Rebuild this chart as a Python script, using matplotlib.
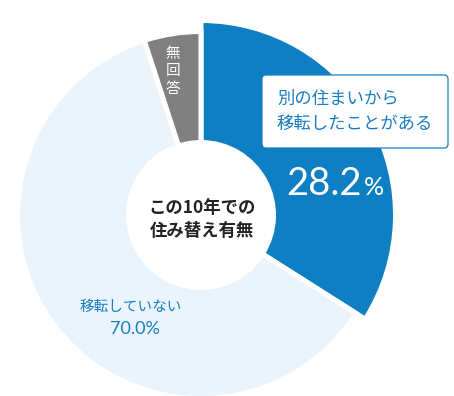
import matplotlib
matplotlib.use("Agg")
import matplotlib.pyplot as plt
from matplotlib.patches import FancyBboxPatch

plt.rcParams["font.family"] = ["Noto Sans CJK JP", "DejaVu Sans"]

# Slice shares as drawn in the chart (blue, light, gray), clockwise from top.
slice_names = ["別の住まいから\n移転したことがある", "移転していない", "無回答"]
slice_shares = [34.0, 61.0, 5.0]
slice_labels = ["28.2", "70.0%", ""]
slice_colors = ["#0e7fc3", "#e9f4fc", "#808080"]
center_title = "この10年での\n住み替え有無"

BLUE = "#1a7dc4"

fig = plt.figure(figsize=(4.54, 3.96), dpi=100)
ax = fig.add_axes([0, 0, 1, 1])

# Geometry in pixel-like data units (centre of donut at origin).
r_outer = 183.5
r_blue = 194.5
r_inner = 72.5

wedges, _ = ax.pie(
    slice_shares, colors=slice_colors, startangle=90, counterclock=False,
    radius=r_outer,
    wedgeprops=dict(width=r_outer - r_inner, edgecolor="white", linewidth=3.6),
)
# the "moved" slice is drawn a bit larger
wedges[0].set_radius(r_blue)
wedges[0].set_width(r_blue - r_inner)

ax.set_xlim(-201, 253)
ax.set_ylim(-181, 215)
ax.set_aspect("equal")
ax.axis("off")

# centre caption
ax.text(1, -4.5, center_title, ha="center", va="center", fontsize=12.5,
        fontweight="bold", color="#222222", linespacing=1.35)

# callout box for the blue slice
box = FancyBboxPatch((61, 67), 186, 73, boxstyle="round,pad=0,rounding_size=4",
                     facecolor="white", edgecolor=BLUE, linewidth=0.9, zorder=3)
ax.add_patch(box)
ax.text(76, 103.5, slice_names[0], ha="left", va="center", fontsize=12.5,
        color=BLUE, linespacing=1.45, zorder=4)

# blue slice percentage
ax.text(161, 20, slice_labels[0], ha="right", va="baseline", fontsize=27.5,
        family=["Lato", "DejaVu Sans"], color="white", zorder=4)
ax.text(163, 20, "%", ha="left", va="baseline", fontsize=18,
        family=["Lato", "DejaVu Sans"], color="white", zorder=4)

# light slice label
ax.text(-70.5, -92, slice_names[1], ha="center", va="center", fontsize=10.5,
        color=BLUE)
ax.text(-66, -114.5, slice_labels[1], ha="center", va="center", fontsize=13,
        family=["Lato", "DejaVu Sans"], color=BLUE)

# gray slice label, stacked vertically
ax.text(-28, 143.5, "\n".join(slice_names[2]), ha="center", va="center",
        fontsize=10.5, color="white", linespacing=1.3)

fig.savefig("out.png", dpi=100)
